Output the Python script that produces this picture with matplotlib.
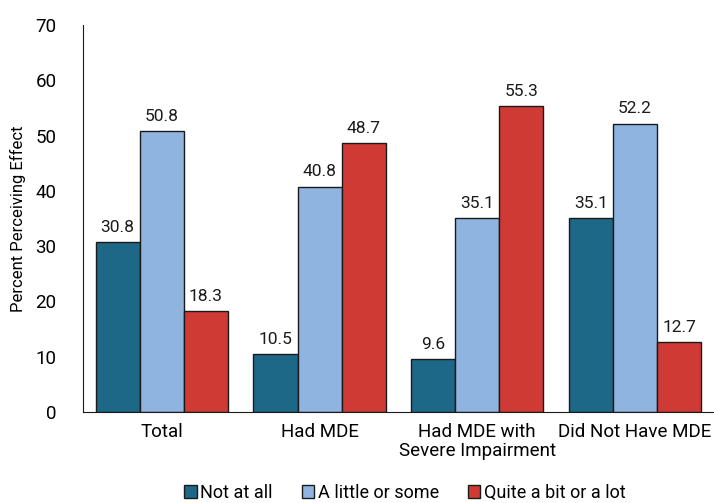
import matplotlib
matplotlib.use("Agg")
import matplotlib.pyplot as plt
import numpy as np
from matplotlib.patches import Patch

categories = ["Total", "Had MDE", "Had MDE with\nSevere Impairment", "Did Not Have MDE"]
series_names = ["Not at all", "A little or some", "Quite a bit or a lot"]
not_at_all = [30.8, 10.5, 9.6, 35.1]
little_some = [50.8, 40.8, 35.1, 52.2]
quite_lot = [18.3, 48.7, 55.3, 12.7]
colors = ["#1d6887", "#8fb4e0", "#d03a34"]
yticks = [0, 10, 20, 30, 40, 50, 60, 70]

plt.rcParams['font.family'] = ['Roboto', 'DejaVu Sans']

fig = plt.figure(figsize=(7.14, 5.03), dpi=100)
ax = fig.add_axes([0.116, 0.181, 0.884, 0.769])

x = np.arange(len(categories))
w = 0.279
for i, (vals, c) in enumerate(zip([not_at_all, little_some, quite_lot], colors)):
    pos = x + (i - 1) * w
    ax.bar(pos, vals, width=w, color=c, edgecolor="#1a1a1a", linewidth=1.0, zorder=2)
    for p, v in zip(pos, vals):
        ax.text(p, v + 1.3, f"{v:.1f}", ha="center", va="bottom", fontsize=12.5, color="#1a1a1a")

ax.set_xlim(-0.5, len(categories) - 0.5)
ax.set_ylim(0, 70)
ax.set_yticks(yticks)
ax.set_xticks(x)
ax.set_xticklabels(categories, fontsize=13.5, linespacing=1.05)
ax.tick_params(axis="y", length=0, pad=19, labelsize=13.5)
ax.tick_params(axis="x", length=0, pad=8)
for s in ["top", "right"]:
    ax.spines[s].set_visible(False)
ax.spines["left"].set_color("#1a1a1a")
ax.spines["bottom"].set_color("#1a1a1a")
ax.set_ylabel("Percent Perceiving Effect", fontsize=12)
ax.yaxis.set_label_coords(-0.09, 0.5)

handles = [Patch(facecolor=c, edgecolor="#1a1a1a", linewidth=1.0) for c in colors]
fig.legend(handles, series_names, loc="center", bbox_to_anchor=(0.567, 0.02), ncol=3,
           frameon=False, fontsize=13, handlelength=0.7, handleheight=0.7,
           handletextpad=0.2, columnspacing=1.6)

fig.savefig("out.png", dpi=100)
